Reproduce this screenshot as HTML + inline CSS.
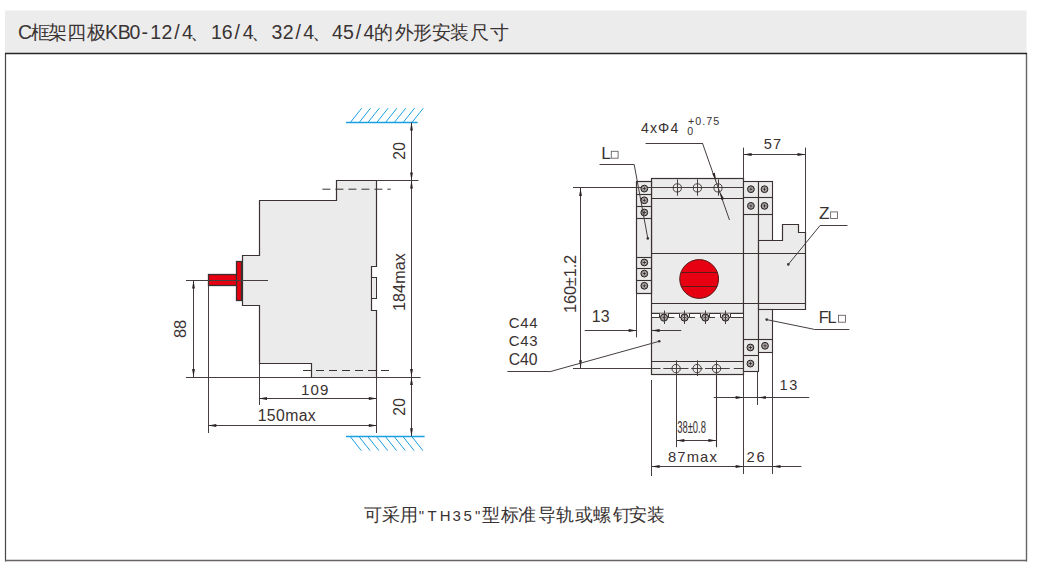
<!DOCTYPE html>
<html><head><meta charset="utf-8">
<style>
html,body{margin:0;padding:0;background:#fff;width:1037px;height:570px;overflow:hidden}
body{position:relative;font-family:"Liberation Sans",sans-serif;color:#3a3333}
svg{position:absolute;left:0;top:0}
svg text{font-family:"Liberation Sans",sans-serif}
</style></head><body>
<svg width="1037" height="570" viewBox="0 0 1037 570">
<rect x="5" y="10.5" width="1021.5" height="42.5" fill="#ececec"/>
<line x1="5.5" y1="53" x2="5.5" y2="561.5" stroke="#4a4444" stroke-width="1.2" />
<line x1="1026.5" y1="53" x2="1026.5" y2="561.5" stroke="#6a6464" stroke-width="1.4" />
<line x1="5" y1="560.5" x2="1027" y2="560.5" stroke="#6a6464" stroke-width="1.4" />
<line x1="5" y1="53.5" x2="1027" y2="53.5" stroke="#2a2424" stroke-width="1.6" />
<line x1="346" y1="122.5" x2="417.7" y2="122.5" stroke="#1aa0e2" stroke-width="1.5" />
<line x1="350.4" y1="122.4" x2="361.7" y2="108.2" stroke="#1aa0e2" stroke-width="1" />
<line x1="359.2" y1="122.4" x2="370.5" y2="108.2" stroke="#1aa0e2" stroke-width="1" />
<line x1="368.0" y1="122.4" x2="379.3" y2="108.2" stroke="#1aa0e2" stroke-width="1" />
<line x1="376.79999999999995" y1="122.4" x2="388.09999999999997" y2="108.2" stroke="#1aa0e2" stroke-width="1" />
<line x1="385.59999999999997" y1="122.4" x2="396.9" y2="108.2" stroke="#1aa0e2" stroke-width="1" />
<line x1="394.4" y1="122.4" x2="405.7" y2="108.2" stroke="#1aa0e2" stroke-width="1" />
<line x1="403.2" y1="122.4" x2="414.5" y2="108.2" stroke="#1aa0e2" stroke-width="1" />
<line x1="412.0" y1="122.4" x2="423.3" y2="108.2" stroke="#1aa0e2" stroke-width="1" />
<line x1="346" y1="436.5" x2="424.6" y2="436.5" stroke="#1aa0e2" stroke-width="1.5" />
<line x1="350.0" y1="436.3" x2="361.3" y2="450.6" stroke="#1aa0e2" stroke-width="1" />
<line x1="358.8" y1="436.3" x2="370.1" y2="450.6" stroke="#1aa0e2" stroke-width="1" />
<line x1="367.6" y1="436.3" x2="378.90000000000003" y2="450.6" stroke="#1aa0e2" stroke-width="1" />
<line x1="376.4" y1="436.3" x2="387.7" y2="450.6" stroke="#1aa0e2" stroke-width="1" />
<line x1="385.2" y1="436.3" x2="396.5" y2="450.6" stroke="#1aa0e2" stroke-width="1" />
<line x1="394.0" y1="436.3" x2="405.3" y2="450.6" stroke="#1aa0e2" stroke-width="1" />
<line x1="402.8" y1="436.3" x2="414.1" y2="450.6" stroke="#1aa0e2" stroke-width="1" />
<line x1="411.6" y1="436.3" x2="422.90000000000003" y2="450.6" stroke="#1aa0e2" stroke-width="1" />
<polygon points="336.5,180.5 376.5,180.5 376.5,266.5 371.5,266.5 371.5,310.5 376.5,310.5 376.5,377.5 311.5,377.5 311.5,363.5 259.5,363.5 259.5,305.5 242.5,305.5 242.5,255.5 259.5,255.5 259.5,200.5 336.5,200.5" fill="#ebebeb" stroke="#3a3131" stroke-width="1.2"/>
<rect x="371.5" y="277.5" width="5.0" height="21.0" fill="#ebebeb" stroke="#3a3131" stroke-width="1"/>
<line x1="322.4" y1="189.2" x2="390.8" y2="189.2" stroke="#3a3131" stroke-width="1" stroke-dasharray="8 5"/>
<line x1="303" y1="370.5" x2="390.8" y2="370.5" stroke="#3a3131" stroke-width="1" stroke-dasharray="8 5"/>
<rect x="208.5" y="274.5" width="29.0" height="11.0" fill="#e60012" stroke="#3a3131" stroke-width="1.3"/>
<rect x="236.5" y="261.5" width="5.0" height="39.0" fill="#e60012" stroke="#3a3131" stroke-width="1.3"/>
<line x1="186" y1="280.5" x2="268" y2="280.5" stroke="#463e3e" stroke-width="1" />
<line x1="376.8" y1="180.5" x2="418.4" y2="180.5" stroke="#463e3e" stroke-width="1" />
<line x1="186" y1="377.5" x2="420.6" y2="377.5" stroke="#463e3e" stroke-width="1" />
<line x1="208.5" y1="285.7" x2="208.5" y2="433" stroke="#463e3e" stroke-width="1" />
<line x1="259.5" y1="363" x2="259.5" y2="405" stroke="#463e3e" stroke-width="1" />
<line x1="376.5" y1="377" x2="376.5" y2="433" stroke="#463e3e" stroke-width="1" />
<line x1="411.5" y1="122.4" x2="411.5" y2="436.3" stroke="#463e3e" stroke-width="1" />
<polygon points="411.5,122.4 412.90,130.40 410.10,130.40" fill="#2a2222"/>
<polygon points="411.5,180.5 410.10,172.50 412.90,172.50" fill="#2a2222"/>
<polygon points="411.5,180.5 412.90,188.50 410.10,188.50" fill="#2a2222"/>
<polygon points="411.5,377 410.10,369.00 412.90,369.00" fill="#2a2222"/>
<polygon points="411.5,377 412.90,385.00 410.10,385.00" fill="#2a2222"/>
<polygon points="411.5,436.3 410.10,428.30 412.90,428.30" fill="#2a2222"/>
<text x="390.30" y="156.30" font-size="15.65" textLength="17.80" lengthAdjust="spacing" fill="#3a3131" transform="rotate(-90 399.20 150.90)">20</text>
<text x="370.20" y="287.70" font-size="16.09" textLength="57.90" lengthAdjust="spacing" fill="#3a3131" transform="rotate(-90 399.15 282.15)">184max</text>
<text x="390.30" y="412.30" font-size="15.65" textLength="17.80" lengthAdjust="spacing" fill="#3a3131" transform="rotate(-90 399.20 406.90)">20</text>
<line x1="193.5" y1="280.4" x2="193.5" y2="377" stroke="#463e3e" stroke-width="1" />
<polygon points="193.5,280.4 194.90,288.40 192.10,288.40" fill="#2a2222"/>
<polygon points="193.5,377 192.10,369.00 194.90,369.00" fill="#2a2222"/>
<text x="171.70" y="334.60" font-size="16.52" textLength="18.20" lengthAdjust="spacing" fill="#3a3131" transform="rotate(-90 180.80 328.90)">88</text>
<line x1="259" y1="398.5" x2="376.8" y2="398.5" stroke="#463e3e" stroke-width="1" />
<polygon points="259,398.5 267.00,397.10 267.00,399.90" fill="#2a2222"/>
<polygon points="376.8,398.5 368.80,399.90 368.80,397.10" fill="#2a2222"/>
<text x="301.10" y="394.90" font-size="15.07" textLength="27.20" lengthAdjust="spacing" fill="#3a3131">109</text>
<line x1="208.3" y1="425.5" x2="376.8" y2="425.5" stroke="#463e3e" stroke-width="1" />
<polygon points="208.3,425.5 216.30,424.10 216.30,426.90" fill="#2a2222"/>
<polygon points="376.8,425.5 368.80,426.90 368.80,424.10" fill="#2a2222"/>
<text x="257.70" y="421.00" font-size="15.80" textLength="58.00" lengthAdjust="spacing" fill="#3a3131">150max</text>
<rect x="651.5" y="178.5" width="92.0" height="196.0" fill="#ebebeb" stroke="#3a3131" stroke-width="1.2"/>
<rect x="636.5" y="181.5" width="15.0" height="112.0" fill="#ebebeb" stroke="#3a3131" stroke-width="1.2"/>
<rect x="743.5" y="181.5" width="15.0" height="190.0" fill="#ebebeb" stroke="#3a3131" stroke-width="1.1"/>
<rect x="758.5" y="181.5" width="14.0" height="59.0" fill="#ebebeb" stroke="#3a3131" stroke-width="1.1"/>
<polygon points="758.5,240.5 782.5,240.5 782.5,224.5 798.5,224.5 798.5,232.5 805.5,232.5 805.5,309.5 758.5,309.5" fill="#ebebeb" stroke="#3a3131" stroke-width="1.2"/>
<rect x="758.5" y="309.5" width="14.0" height="43.0" fill="#ebebeb" stroke="#3a3131" stroke-width="1.1"/>
<line x1="651.6" y1="198.5" x2="743.6" y2="198.5" stroke="#3a3131" stroke-width="1.2" />
<line x1="651.6" y1="253.5" x2="805.4" y2="253.5" stroke="#3a3131" stroke-width="1.1" />
<line x1="651.6" y1="303.5" x2="805.4" y2="303.5" stroke="#3a3131" stroke-width="1.1" />
<line x1="651.6" y1="313.5" x2="743.6" y2="313.5" stroke="#3a3131" stroke-width="1.4" />
<line x1="651.6" y1="361.5" x2="743.6" y2="361.5" stroke="#3a3131" stroke-width="1.1" />
<line x1="636.6" y1="194.5" x2="651.6" y2="194.5" stroke="#3a3131" stroke-width="1.1" />
<line x1="636.6" y1="206.5" x2="651.6" y2="206.5" stroke="#3a3131" stroke-width="1.1" />
<line x1="636.6" y1="218.5" x2="651.6" y2="218.5" stroke="#3a3131" stroke-width="1.1" />
<line x1="636.6" y1="257.5" x2="651.6" y2="257.5" stroke="#3a3131" stroke-width="1.1" />
<line x1="636.6" y1="268.5" x2="651.6" y2="268.5" stroke="#3a3131" stroke-width="1.1" />
<line x1="636.6" y1="280.5" x2="651.6" y2="280.5" stroke="#3a3131" stroke-width="1.1" />
<line x1="743.6" y1="197.5" x2="772.6" y2="197.5" stroke="#3a3131" stroke-width="1.1" />
<line x1="743.6" y1="214.5" x2="772.6" y2="214.5" stroke="#3a3131" stroke-width="1.1" />
<line x1="743.6" y1="339.5" x2="772.6" y2="339.5" stroke="#3a3131" stroke-width="1.1" />
<line x1="743.6" y1="355.5" x2="758.3" y2="355.5" stroke="#3a3131" stroke-width="1.1" />
<circle cx="699.15" cy="279" r="19.4" fill="#e60012" stroke="#5a1a1a" stroke-width="1"/>
<line x1="680.9436824151614" y1="272.5" x2="717.3563175848385" y2="272.5" stroke="#5a1a1a" stroke-width="1.1" />
<line x1="681.1758518977949" y1="286.5" x2="717.124148102205" y2="286.5" stroke="#5a1a1a" stroke-width="1.1" />
<line x1="573" y1="187.5" x2="743.6" y2="187.5" stroke="#463e3e" stroke-width="1" />
<rect x="652" y="314" width="91" height="3" fill="#fbfbfb"/>
<line x1="651.6" y1="317.5" x2="659.2" y2="317.5" stroke="#463e3e" stroke-width="1" />
<line x1="668" y1="317.5" x2="674.3" y2="317.5" stroke="#463e3e" stroke-width="1" />
<line x1="690" y1="317.5" x2="695" y2="317.5" stroke="#463e3e" stroke-width="1" />
<line x1="710" y1="317.5" x2="715" y2="317.5" stroke="#463e3e" stroke-width="1" />
<line x1="731" y1="317.5" x2="743.6" y2="317.5" stroke="#463e3e" stroke-width="1" />
<path d="M659.5,313.5V317.5H668.5V313.5" fill="#f4f2f2" stroke="#3a3131" stroke-width="1"/>
<path d="M679.5,313.5V317.5H689.5V313.5" fill="#f4f2f2" stroke="#3a3131" stroke-width="1"/>
<path d="M700.5,313.5V317.5H709.5V313.5" fill="#f4f2f2" stroke="#3a3131" stroke-width="1"/>
<path d="M720.5,313.5V317.5H730.5V313.5" fill="#f4f2f2" stroke="#3a3131" stroke-width="1"/>
<line x1="573" y1="368.5" x2="651.6" y2="368.5" stroke="#463e3e" stroke-width="1" />
<line x1="651.6" y1="368.5" x2="660.5" y2="368.5" stroke="#463e3e" stroke-width="1" />
<line x1="663.3" y1="368.5" x2="688.5" y2="368.5" stroke="#463e3e" stroke-width="1" />
<line x1="691.2" y1="368.5" x2="702.7" y2="368.5" stroke="#463e3e" stroke-width="1" />
<line x1="705" y1="368.5" x2="729.7" y2="368.5" stroke="#463e3e" stroke-width="1" />
<line x1="733.8" y1="368.5" x2="743.6" y2="368.5" stroke="#463e3e" stroke-width="1" />
<circle cx="677.3" cy="187.9" r="4.1" fill="none" stroke="#3a3131" stroke-width="0.9"/>
<line x1="677.5" y1="179.3" x2="677.5" y2="195.7" stroke="#463e3e" stroke-width="1" />
<circle cx="697.4" cy="187.9" r="4.1" fill="none" stroke="#3a3131" stroke-width="0.9"/>
<line x1="697.5" y1="179.3" x2="697.5" y2="195.7" stroke="#463e3e" stroke-width="1" />
<circle cx="718" cy="187.9" r="4.1" fill="none" stroke="#3a3131" stroke-width="0.9"/>
<line x1="718.5" y1="179.3" x2="718.5" y2="195.7" stroke="#463e3e" stroke-width="1" />
<circle cx="676.1" cy="368.6" r="4.2" fill="none" stroke="#3a3131" stroke-width="0.9"/>
<line x1="676.5" y1="360.3" x2="676.5" y2="376" stroke="#463e3e" stroke-width="1" />
<circle cx="697.1" cy="368.6" r="4.2" fill="none" stroke="#3a3131" stroke-width="0.9"/>
<line x1="697.5" y1="360.3" x2="697.5" y2="376" stroke="#463e3e" stroke-width="1" />
<circle cx="716.5" cy="368.6" r="4.2" fill="none" stroke="#3a3131" stroke-width="0.9"/>
<line x1="716.5" y1="360.3" x2="716.5" y2="376" stroke="#463e3e" stroke-width="1" />
<circle cx="644.3" cy="188.6" r="3.4" fill="#9a9494" stroke="#262020" stroke-width="1"/>
<circle cx="644.3" cy="188.6" r="1.70" fill="#dcd8d8"/>
<path d="M642.6999999999999,188.6h3.2M644.3,187.0v3.2" stroke="#2a2424" stroke-width="0.9"/>
<circle cx="644.3" cy="200.3" r="3.4" fill="#9a9494" stroke="#262020" stroke-width="1"/>
<circle cx="644.3" cy="200.3" r="1.70" fill="#dcd8d8"/>
<path d="M642.6999999999999,200.3h3.2M644.3,198.70000000000002v3.2" stroke="#2a2424" stroke-width="0.9"/>
<circle cx="644.3" cy="212.5" r="3.4" fill="#9a9494" stroke="#262020" stroke-width="1"/>
<circle cx="644.3" cy="212.5" r="1.70" fill="#dcd8d8"/>
<path d="M642.6999999999999,212.5h3.2M644.3,210.9v3.2" stroke="#2a2424" stroke-width="0.9"/>
<circle cx="644.3" cy="262.5" r="3.4" fill="#9a9494" stroke="#262020" stroke-width="1"/>
<circle cx="644.3" cy="262.5" r="1.70" fill="#dcd8d8"/>
<path d="M642.6999999999999,262.5h3.2M644.3,260.9v3.2" stroke="#2a2424" stroke-width="0.9"/>
<circle cx="644.3" cy="273.6" r="3.4" fill="#9a9494" stroke="#262020" stroke-width="1"/>
<circle cx="644.3" cy="273.6" r="1.70" fill="#dcd8d8"/>
<path d="M642.6999999999999,273.6h3.2M644.3,272.0v3.2" stroke="#2a2424" stroke-width="0.9"/>
<circle cx="644.3" cy="285.8" r="3.4" fill="#9a9494" stroke="#262020" stroke-width="1"/>
<circle cx="644.3" cy="285.8" r="1.70" fill="#dcd8d8"/>
<path d="M642.6999999999999,285.8h3.2M644.3,284.2v3.2" stroke="#2a2424" stroke-width="0.9"/>
<circle cx="750.9" cy="189.2" r="3.4" fill="#9a9494" stroke="#262020" stroke-width="1"/>
<circle cx="750.9" cy="189.2" r="1.70" fill="#dcd8d8"/>
<path d="M749.3,189.2h3.2M750.9,187.6v3.2" stroke="#2a2424" stroke-width="0.9"/>
<circle cx="764.5" cy="189.2" r="3.4" fill="#9a9494" stroke="#262020" stroke-width="1"/>
<circle cx="764.5" cy="189.2" r="1.70" fill="#dcd8d8"/>
<path d="M762.9,189.2h3.2M764.5,187.6v3.2" stroke="#2a2424" stroke-width="0.9"/>
<circle cx="750.9" cy="205.9" r="3.4" fill="#9a9494" stroke="#262020" stroke-width="1"/>
<circle cx="750.9" cy="205.9" r="1.70" fill="#dcd8d8"/>
<path d="M749.3,205.9h3.2M750.9,204.3v3.2" stroke="#2a2424" stroke-width="0.9"/>
<circle cx="764.5" cy="205.9" r="3.4" fill="#9a9494" stroke="#262020" stroke-width="1"/>
<circle cx="764.5" cy="205.9" r="1.70" fill="#dcd8d8"/>
<path d="M762.9,205.9h3.2M764.5,204.3v3.2" stroke="#2a2424" stroke-width="0.9"/>
<circle cx="750.4" cy="347.5" r="3.4" fill="#9a9494" stroke="#262020" stroke-width="1"/>
<circle cx="750.4" cy="347.5" r="1.70" fill="#dcd8d8"/>
<path d="M748.8,347.5h3.2M750.4,345.9v3.2" stroke="#2a2424" stroke-width="0.9"/>
<circle cx="765" cy="345.8" r="3.4" fill="#9a9494" stroke="#262020" stroke-width="1"/>
<circle cx="765" cy="345.8" r="1.70" fill="#dcd8d8"/>
<path d="M763.4,345.8h3.2M765,344.2v3.2" stroke="#2a2424" stroke-width="0.9"/>
<circle cx="750.4" cy="363.6" r="3.4" fill="#9a9494" stroke="#262020" stroke-width="1"/>
<circle cx="750.4" cy="363.6" r="1.70" fill="#dcd8d8"/>
<path d="M748.8,363.6h3.2M750.4,362.0v3.2" stroke="#2a2424" stroke-width="0.9"/>
<circle cx="664" cy="317.6" r="3.6" fill="#9a9494" stroke="#262020" stroke-width="1"/>
<circle cx="664" cy="317.6" r="1.80" fill="#dcd8d8"/>
<path d="M662.4,317.6h3.2M664,316.0v3.2" stroke="#2a2424" stroke-width="0.9"/>
<line x1="664.5" y1="310.5" x2="664.5" y2="324" stroke="#463e3e" stroke-width="1" />
<circle cx="684.5" cy="317.6" r="3.6" fill="#9a9494" stroke="#262020" stroke-width="1"/>
<circle cx="684.5" cy="317.6" r="1.80" fill="#dcd8d8"/>
<path d="M682.9,317.6h3.2M684.5,316.0v3.2" stroke="#2a2424" stroke-width="0.9"/>
<line x1="684.5" y1="310.5" x2="684.5" y2="324" stroke="#463e3e" stroke-width="1" />
<circle cx="705.3" cy="317.6" r="3.6" fill="#9a9494" stroke="#262020" stroke-width="1"/>
<circle cx="705.3" cy="317.6" r="1.80" fill="#dcd8d8"/>
<path d="M703.6999999999999,317.6h3.2M705.3,316.0v3.2" stroke="#2a2424" stroke-width="0.9"/>
<line x1="705.5" y1="310.5" x2="705.5" y2="324" stroke="#463e3e" stroke-width="1" />
<circle cx="725.5" cy="317.6" r="3.6" fill="#9a9494" stroke="#262020" stroke-width="1"/>
<circle cx="725.5" cy="317.6" r="1.80" fill="#dcd8d8"/>
<path d="M723.9,317.6h3.2M725.5,316.0v3.2" stroke="#2a2424" stroke-width="0.9"/>
<line x1="725.5" y1="310.5" x2="725.5" y2="324" stroke="#463e3e" stroke-width="1" />
<line x1="636.5" y1="293" x2="636.5" y2="337.4" stroke="#463e3e" stroke-width="1" />
<line x1="743.5" y1="147.6" x2="743.5" y2="178.6" stroke="#463e3e" stroke-width="1" />
<line x1="805.5" y1="147.6" x2="805.5" y2="232" stroke="#463e3e" stroke-width="1" />
<line x1="651.5" y1="380" x2="651.5" y2="476" stroke="#463e3e" stroke-width="1" />
<line x1="676.5" y1="376" x2="676.5" y2="447.2" stroke="#463e3e" stroke-width="1" />
<line x1="716.5" y1="376" x2="716.5" y2="447.2" stroke="#3a3131" stroke-width="1.1" />
<line x1="743.5" y1="371" x2="743.5" y2="474" stroke="#463e3e" stroke-width="1" />
<line x1="757.5" y1="371" x2="757.5" y2="405" stroke="#463e3e" stroke-width="1" />
<line x1="772.5" y1="352.6" x2="772.5" y2="474" stroke="#463e3e" stroke-width="1" />
<line x1="580.5" y1="187.9" x2="580.5" y2="368.2" stroke="#463e3e" stroke-width="1" />
<polygon points="580.5,187.9 581.90,195.90 579.10,195.90" fill="#2a2222"/>
<polygon points="580.5,368.2 579.10,360.20 581.90,360.20" fill="#2a2222"/>
<text x="541.30" y="289.60" font-size="16.52" textLength="58.20" lengthAdjust="spacing" fill="#3a3131" transform="rotate(-90 570.40 283.90)">160±1.2</text>
<line x1="584.7" y1="330.5" x2="636.6" y2="330.5" stroke="#463e3e" stroke-width="1" />
<polygon points="636.6,330.5 628.60,331.90 628.60,329.10" fill="#2a2222"/>
<line x1="651.6" y1="330.5" x2="681.3" y2="330.5" stroke="#463e3e" stroke-width="1" />
<polygon points="651.6,330.5 659.60,329.10 659.60,331.90" fill="#2a2222"/>
<text x="591.80" y="322.20" font-size="15.94" textLength="17.80" lengthAdjust="spacing" fill="#3a3131">13</text>
<line x1="743.6" y1="154.5" x2="805.5" y2="154.5" stroke="#463e3e" stroke-width="1" />
<polygon points="743.6,154.5 751.60,153.10 751.60,155.90" fill="#2a2222"/>
<polygon points="805.5,154.5 797.50,155.90 797.50,153.10" fill="#2a2222"/>
<text x="763.70" y="148.50" font-size="14.64" textLength="17.50" lengthAdjust="spacing" fill="#3a3131">57</text>
<line x1="713.7" y1="397.5" x2="809.3" y2="397.5" stroke="#463e3e" stroke-width="1" />
<polygon points="743.6,397.5 735.60,398.90 735.60,396.10" fill="#2a2222"/>
<polygon points="757.8,397.5 765.80,396.10 765.80,398.90" fill="#2a2222"/>
<text x="779.50" y="390.00" font-size="14.49" textLength="17.80" lengthAdjust="spacing" fill="#3a3131">13</text>
<line x1="676.3" y1="440.5" x2="716.4" y2="440.5" stroke="#463e3e" stroke-width="1" />
<polygon points="676.3,440.5 684.30,439.10 684.30,441.90" fill="#2a2222"/>
<polygon points="716.4,440.5 708.40,441.90 708.40,439.10" fill="#2a2222"/>
<text x="677.2" y="432.5" font-size="16.2" textLength="28.8" lengthAdjust="spacingAndGlyphs" fill="#3a3131">38±0.8</text>
<line x1="651.6" y1="466.5" x2="801.4" y2="466.5" stroke="#463e3e" stroke-width="1" />
<polygon points="651.6,466.5 659.60,465.10 659.60,467.90" fill="#2a2222"/>
<polygon points="743.6,466.5 735.60,467.90 735.60,465.10" fill="#2a2222"/>
<polygon points="772.5,466.5 780.50,465.10 780.50,467.90" fill="#2a2222"/>
<text x="668.00" y="462.10" font-size="14.78" textLength="48.80" lengthAdjust="spacing" fill="#3a3131">87max</text>
<text x="746.40" y="462.10" font-size="14.78" textLength="18.30" lengthAdjust="spacing" fill="#3a3131">26</text>
<text x="640.90" y="132.90" font-size="14.06" textLength="37.40" lengthAdjust="spacing" fill="#3a3131">4xΦ4</text>
<text x="688.10" y="124.70" font-size="10.72" textLength="31.00" lengthAdjust="spacing" fill="#3a3131">+0.75</text>
<text x="687.30" y="134.70" font-size="10.58" textLength="7.50" lengthAdjust="spacing" fill="#3a3131">0</text>
<line x1="645.6" y1="143.5" x2="702.4" y2="143.5" stroke="#463e3e" stroke-width="1" />
<line x1="702.4" y1="143" x2="729.5" y2="220" stroke="#463e3e" stroke-width="1" />
<polygon points="716.3,180.8 712.17,173.81 714.79,172.82" fill="#2a2222"/>
<polygon points="720,192 724.13,198.99 721.51,199.98" fill="#2a2222"/>
<text x="601.30" y="158.70" font-size="17.25" textLength="8.40" lengthAdjust="spacing" fill="#3a3131">L</text>
<rect x="611.30" y="151.30" width="6.80" height="6.90" fill="none" stroke="#6a6262" stroke-width="0.9"/>
<line x1="599.5" y1="164.5" x2="634.2" y2="164.5" stroke="#463e3e" stroke-width="1" />
<line x1="634.2" y1="164.5" x2="647.8" y2="238.4" stroke="#463e3e" stroke-width="1" />
<circle cx="647.8" cy="238.4" r="1.3" fill="#3a3131"/>
<text x="819.00" y="219.00" font-size="17.25" textLength="11.50" lengthAdjust="spacing" fill="#3a3131">Z</text>
<rect x="830.60" y="211.90" width="6.90" height="6.60" fill="none" stroke="#6a6262" stroke-width="0.9"/>
<line x1="820" y1="225.5" x2="847.5" y2="225.5" stroke="#463e3e" stroke-width="1" />
<line x1="820" y1="225.6" x2="788.3" y2="264.4" stroke="#463e3e" stroke-width="1" />
<circle cx="788.3" cy="264.4" r="1.3" fill="#3a3131"/>
<text x="818.70" y="322.70" font-size="16.38" textLength="18.00" lengthAdjust="spacing" fill="#3a3131">FL</text>
<rect x="838.50" y="315.30" width="7.00" height="6.90" fill="none" stroke="#6a6262" stroke-width="0.9"/>
<line x1="814.4" y1="329.5" x2="849.4" y2="329.5" stroke="#463e3e" stroke-width="1" />
<line x1="814.4" y1="329.4" x2="766.7" y2="319.6" stroke="#463e3e" stroke-width="1" />
<circle cx="766.7" cy="319.6" r="1.3" fill="#3a3131"/>
<text x="508.70" y="327.80" font-size="14.93" textLength="28.80" lengthAdjust="spacing" fill="#3a3131">C44</text>
<text x="508.70" y="346.10" font-size="14.93" textLength="28.80" lengthAdjust="spacing" fill="#3a3131">C43</text>
<text x="508.70" y="364.90" font-size="15.80" textLength="28.80" lengthAdjust="spacing" fill="#3a3131">C40</text>
<line x1="507.4" y1="371.5" x2="549.9" y2="371.5" stroke="#463e3e" stroke-width="1" />
<line x1="549.9" y1="371.7" x2="659.2" y2="341.3" stroke="#463e3e" stroke-width="1" />
<circle cx="659.2" cy="341.3" r="1.3" fill="#3a3131"/>
<text y="39" fill="#3a3333" font-family="Liberation Sans, sans-serif"><tspan x="18.0" font-size="19.5">C</tspan><tspan x="31.2" font-size="19">框</tspan><tspan x="48.1" font-size="19">架</tspan><tspan x="67.4" font-size="19">四</tspan><tspan x="87.3" font-size="19">极</tspan><tspan x="105.0" font-size="19.5">K</tspan><tspan x="117.7" font-size="19.5">B</tspan><tspan x="129.6" font-size="19.5">0</tspan><tspan x="141.5" font-size="19.5">-</tspan><tspan x="150.3" font-size="19.5">1</tspan><tspan x="161.6" font-size="19.5">2</tspan><tspan x="174.2" font-size="19.5">/</tspan><tspan x="182.0" font-size="19.5">4</tspan><tspan x="190.3" font-size="19">、</tspan><tspan x="211.1" font-size="19.5">1</tspan><tspan x="221.8" font-size="19.5">6</tspan><tspan x="234.4" font-size="19.5">/</tspan><tspan x="242.8" font-size="19.5">4</tspan><tspan x="251.1" font-size="19">、</tspan><tspan x="271.5" font-size="19.5">3</tspan><tspan x="282.8" font-size="19.5">2</tspan><tspan x="295.5" font-size="19.5">/</tspan><tspan x="303.3" font-size="19.5">4</tspan><tspan x="311.5" font-size="19">、</tspan><tspan x="332.1" font-size="19.5">4</tspan><tspan x="343.0" font-size="19.5">5</tspan><tspan x="355.7" font-size="19.5">/</tspan><tspan x="363.4" font-size="19.5">4</tspan><tspan x="373.9" font-size="19">的</tspan><tspan x="394.5" font-size="19">外</tspan><tspan x="413.0" font-size="19">形</tspan><tspan x="431.9" font-size="19">安</tspan><tspan x="450.1" font-size="19">装</tspan><tspan x="469.7" font-size="19">尺</tspan><tspan x="489.5" font-size="19">寸</tspan></text>
<text y="521" fill="#3a3333" font-family="Liberation Sans, sans-serif"><tspan x="364.4" font-size="18">可</tspan><tspan x="382.1" font-size="18">采</tspan><tspan x="400.4" font-size="18">用</tspan><tspan x="418.8" font-size="15">&quot;</tspan><tspan x="427.4" font-size="15">T</tspan><tspan x="439.7" font-size="15">H</tspan><tspan x="452.4" font-size="15">3</tspan><tspan x="463.4" font-size="15">5</tspan><tspan x="475.0" font-size="15">&quot;</tspan><tspan x="482.3" font-size="18">型</tspan><tspan x="500.8" font-size="18">标</tspan><tspan x="518.3" font-size="18">准</tspan><tspan x="537.5" font-size="18">导</tspan><tspan x="556.3" font-size="18">轨</tspan><tspan x="574.8" font-size="18">或</tspan><tspan x="593.3" font-size="18">螺</tspan><tspan x="612.6" font-size="18">钉</tspan><tspan x="628.6" font-size="18">安</tspan><tspan x="647.1" font-size="18">装</tspan></text>
</svg>
</body></html>
